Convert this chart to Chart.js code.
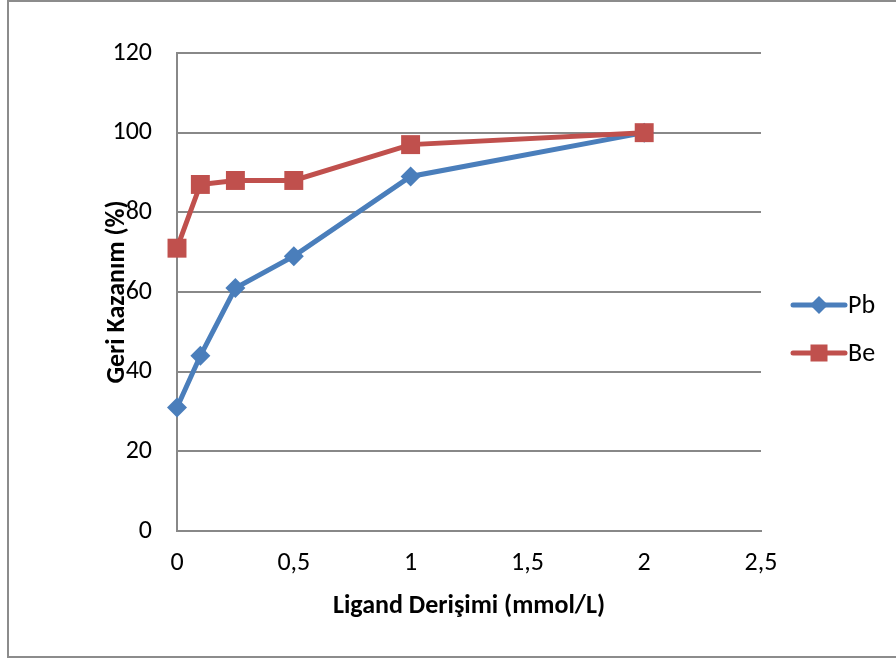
<!DOCTYPE html>
<html>
<head>
<meta charset="utf-8">
<script src="https://cdn.jsdelivr.net/npm/chart.js@4/dist/chart.umd.min.js"></script>
<style>
  html, body { margin: 0; padding: 0; background: #fff; }
  #wrap { position: absolute; left: 0; top: 0; width: 896px; height: 659px; overflow: hidden; }
  #frame { position: absolute; left: 7px; top: 0px; width: 900px; height: 654px; border: 2px solid #8c8c8c; box-sizing: content-box; }
  canvas { position: absolute; left: 0; top: 0; }
</style>
</head>
<body>
<div id="wrap">
  <div id="frame"></div>
  <canvas id="c" width="896" height="659"></canvas>
</div>
<script>
const xValues = [0, 0.1, 0.25, 0.5, 1, 2];
const pbValues = [31, 44, 61, 69, 89, 100];
const beValues = [71, 87, 88, 88, 97, 100];
const seriesNames = ['Pb', 'Be'];
const xTitle = 'Ligand Derişimi (mmol/L)';
const yTitle = 'Geri Kazanım (%)';

const FONT = "Carlito, 'Open Sans', 'Liberation Sans', sans-serif";
const blue = '#4a7ebb';
const red = '#c0504d';

const toPts = (xs, ys) => xs.map((x, i) => ({ x: x, y: ys[i] }));

const legendPlugin = {
  id: 'customLegend',
  afterDraw(chart) {
    const ctx = chart.ctx;
    const ys = [305, 353];
    chart.data.datasets.forEach((ds, i) => {
      const y = ys[i];
      const x0 = 793, x1 = 845, xm = (x0 + x1) / 2;
      ctx.save();
      ctx.strokeStyle = ds.borderColor;
      ctx.lineWidth = 5;
      ctx.lineCap = 'round';
      ctx.beginPath(); ctx.moveTo(x0, y); ctx.lineTo(x1, y); ctx.stroke();
      ctx.fillStyle = ds.backgroundColor;
      if (ds.pointStyle === 'rectRot') {
        ctx.beginPath();
        ctx.moveTo(xm, y - 9); ctx.lineTo(xm + 9, y); ctx.lineTo(xm, y + 9); ctx.lineTo(xm - 9, y);
        ctx.closePath(); ctx.fill();
      } else {
        ctx.fillRect(xm - 8.5, y - 8.5, 17, 17);
      }
      ctx.fillStyle = '#000';
      ctx.font = "26px " + FONT;
      ctx.textBaseline = 'middle';
      ctx.textAlign = 'left';
      ctx.fillText(ds.label, 848, y + 1);
      ctx.restore();
    });
  }
};

new Chart(document.getElementById('c'), {
  type: 'scatter',
  data: {
    datasets: [
      {
        label: seriesNames[0],
        data: toPts(xValues, pbValues),
        showLine: true,
        clip: false,
        borderColor: blue,
        backgroundColor: blue,
        borderWidth: 5,
        pointStyle: 'rectRot',
        pointRadius: 10,
        pointBorderWidth: 0,
        pointHoverRadius: 10,
        order: 2
      },
      {
        label: seriesNames[1],
        data: toPts(xValues, beValues),
        showLine: true,
        clip: false,
        borderColor: red,
        backgroundColor: red,
        borderWidth: 5,
        pointStyle: 'rect',
        pointRadius: 13.4,
        pointBorderWidth: 0,
        pointHoverRadius: 13.4,
        order: 1
      }
    ]
  },
  options: {
    responsive: false,
    animation: false,
    events: [],
    layout: { padding: { left: 90, right: 135, top: 53, bottom: 37 } },
    plugins: { legend: { display: false }, tooltip: { enabled: false } },
    scales: {
      x: {
        type: 'linear',
        min: 0, max: 2.5,
        ticks: {
          stepSize: 0.5,
          padding: 17,
          color: '#000',
          font: { family: FONT, size: 26 },
          callback: v => String(v).replace('.', ',')
        },
        grid: { display: false, drawTicks: false },
        border: { display: true, color: '#888', width: 2 },
        title: {
          display: true, text: xTitle, color: '#000',
          font: { family: FONT, size: 26, weight: 'bold' },
          padding: { top: 4, bottom: 0 }
        },
        afterFit(s) { s.height = 91; }
      },
      y: {
        min: 0, max: 120,
        ticks: {
          stepSize: 20,
          padding: 25,
          color: '#000',
          font: { family: FONT, size: 26 }
        },
        grid: { color: '#888', lineWidth: 2, drawTicks: false },
        border: { display: true, color: '#888', width: 2 },
        title: {
          display: true, text: yTitle, color: '#000',
          font: { family: FONT, size: 26, weight: 'bold' },
          padding: { top: 12, bottom: 0 }
        },
        afterFit(s) { s.width = 87; }
      }
    }
  },
  plugins: [legendPlugin]
});
</script>
</body>
</html>
